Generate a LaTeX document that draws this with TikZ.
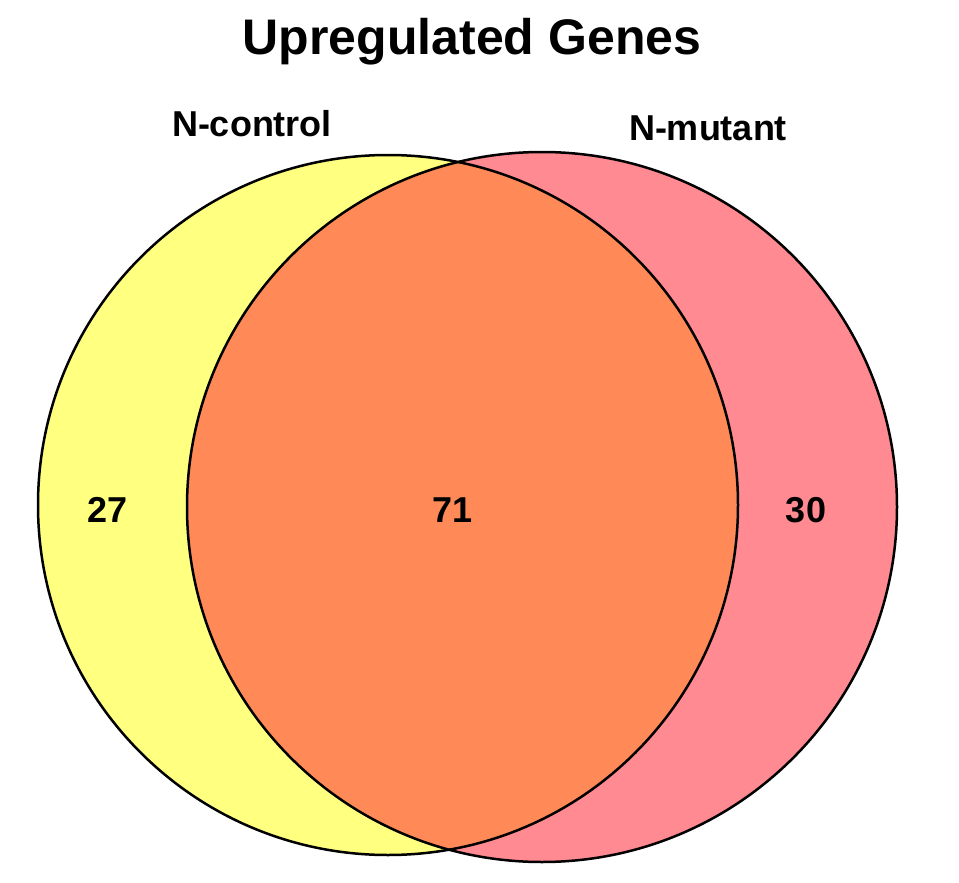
\documentclass[tikz,border=0pt]{standalone}
\usepackage{fontspec}
\setmainfont{Liberation Sans}
\begin{document}
\begin{tikzpicture}[x=1pt,y=-1pt,
  lbl/.style={font=\bfseries\fontsize{36}{40}\selectfont},
  circ/.style={draw=black,line width=2.5pt}]
\useasboundingbox (0,0) rectangle (959,883);
\definecolor{cyel}{HTML}{FFFF80}
\definecolor{cred}{HTML}{FF8A92}
\definecolor{cora}{HTML}{FF8A58}
\coordinate (cl) at (388,505);
\coordinate (cr) at (542,507);
\fill[cyel] (cl) circle (350);
\fill[cred] (cr) circle (355);
\begin{scope}
\clip (cl) circle (350);
\fill[cora] (cr) circle (355);
\end{scope}
\draw[circ] (cl) circle (350);
\draw[circ] (cr) circle (355);
\node[font=\bfseries\fontsize{50}{56}\selectfont] (t) at (472,42) {Upregulated Genes};
\node[lbl] (a) at (252,124) {N-control};
\node[lbl] (b) at (708,128) {N-mutant};
\node[lbl] (n1) at (108,510) {27};
\node[lbl] (n2) at (453,510) {71};
\node[lbl] (n3) at (806,510) {30};
\end{tikzpicture}
\end{document}
